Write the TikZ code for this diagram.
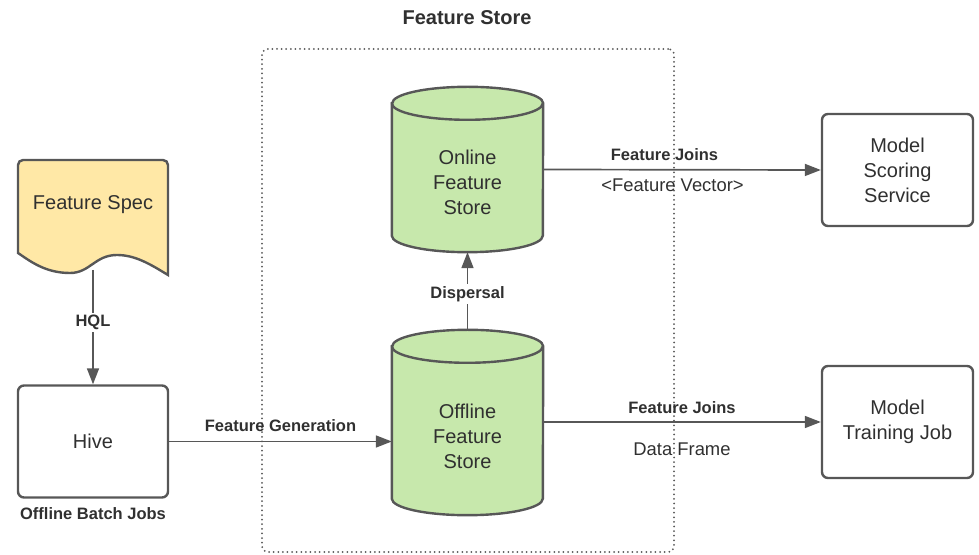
\documentclass[tikz,border=0pt]{standalone}
\usepackage{fontspec}
\setmainfont{Liberation Sans}
\usetikzlibrary{arrows.meta,backgrounds}
\definecolor{edge}{HTML}{575757}
\definecolor{ink}{HTML}{303030}
\definecolor{storegreen}{HTML}{C7E8AC}
\definecolor{specyellow}{HTML}{FFE8A6}

% Cylinder (database drum) drawn around a named rectangular node
\newcommand\storedrum[1]{%
  \draw[edge, line width=2.4pt, fill=storegreen]
    ([yshift=-16.5pt]#1.north west) -- ([yshift=16.5pt]#1.south west)
    arc[start angle=180, end angle=360, x radius=75.5pt, y radius=16.5pt]
    -- ([yshift=-16.5pt]#1.north east)
    arc[start angle=0, end angle=180, x radius=75.5pt, y radius=16.5pt] -- cycle;
  \draw[edge, line width=2.4pt] ([yshift=-16.5pt]#1.north west)
    arc[start angle=180, end angle=360, x radius=75.5pt, y radius=16.5pt];
}

\begin{document}
\begin{tikzpicture}[x=1pt, y=1pt,
  every node/.style={text=ink, font=\fontsize{20}{25}\selectfont, align=center},
  box/.style={draw=edge, line width=2.4pt, rounded corners=6pt, minimum width=150pt,
              minimum height=112pt, inner sep=0pt},
  drum/.style={minimum width=151pt, inner sep=0pt},
  conn/.style={draw=edge, line width=1.7pt, -{Triangle[length=16pt, width=12pt]}},
  tag/.style={font=\bfseries\fontsize{16.5}{20}\selectfont},
  note/.style={font=\fontsize{18.4}{22}\selectfont},
  gap/.style={fill=white, inner sep=2pt},
]
\useasboundingbox (0,0) rectangle (979,554);

% Feature store frame and title
\node[draw=edge, line width=2pt, dash pattern=on 0pt off 4.6pt, line cap=round,
      rounded corners=6pt, minimum width=412pt, minimum height=503pt, inner sep=0pt]
      (frame) at (468,253.5) {};
\node[font=\bfseries\fontsize{20}{24}\selectfont] (title) at (467,536) {Feature Store};

% Feature spec document
\draw[edge, line width=2.4pt, fill=specyellow]
  (18,301) -- (18,389) arc[start angle=180, end angle=90, radius=5]
  -- (163,394) arc[start angle=90, end angle=0, radius=5]
  -- (168,279) .. controls (150,290) and (135,299) .. (117,299)
  .. controls (95,299) and (90,281) .. (70,281)
  .. controls (45,281) and (30,293) .. (18,301) -- cycle;
\node (spec) at (93,349) {Feature Spec};
\coordinate (specfoot) at (93,284);

% Batch side
\node[box] (hive) at (93,112.5) {Hive};
\node[tag] (batch) at (93,40) {Offline Batch Jobs};

% Stores
\node[drum, minimum height=165pt,
      label={[yshift=-13pt]center:{Online\\Feature\\Store}}] (online) at (467.5,384.5) {};
\node[drum, minimum height=185pt,
      label={[yshift=-13.5pt]center:{Offline\\Feature\\Store}}] (offline) at (467.5,131.5) {};
\begin{scope}[on background layer]
  \storedrum{online}
  \storedrum{offline}
\end{scope}

% Consumers
\node[box, minimum width=151pt] (scoring) at (897.5,384) {Model\\Scoring\\Service};
\node[box, minimum width=151pt] (training) at (897.5,132) {Model\\Training Job};

% Connectors
\draw[conn] (specfoot) -- node[tag, gap, pos=0.46] {HQL} (hive.north);
\draw[conn] (hive.east) -- node[tag, pos=0.5, yshift=16pt] {Feature Generation}
  (hive.east -| offline.west);
\draw[conn] (offline.north) -- node[tag, gap, pos=0.46] {Dispersal} (online.south);
\draw[conn] (online.east) --
  node[tag, pos=0.437, yshift=15pt] {Feature Joins}
  node[note, pos=0.466, yshift=-16pt] {<Feature Vector>} (scoring.west);
\draw[conn] (offline.east |- training.west) --
  node[tag, pos=0.5, yshift=14pt] {Feature Joins}
  node[note, pos=0.5, yshift=-27pt] {Data Frame} (training.west);
\end{tikzpicture}
\end{document}
